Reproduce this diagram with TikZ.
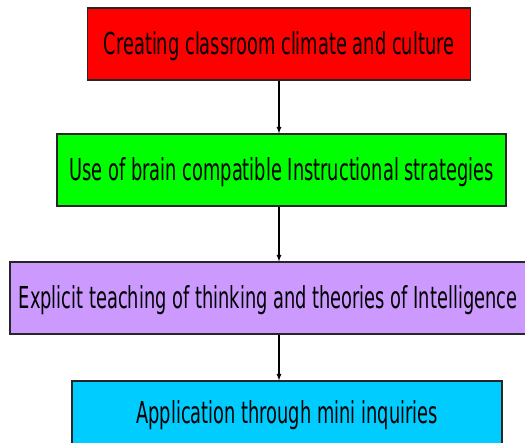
\documentclass[tikz,border=0pt]{standalone}
\usepackage{fontspec}
\setmainfont{DejaVu Sans}
\usetikzlibrary{arrows}

\definecolor{lilac}{HTML}{CC99FF}
\definecolor{skyblue}{HTML}{00CCFF}
\definecolor{lime}{HTML}{00FF00}

% squeezed text for the stage boxes
\newcommand{\narrow}[1]{\scalebox{0.59}[1]{#1}}

\tikzset{
	stage/.style={draw=black!85, line width=1.2pt, inner sep=0pt,
		text height=22pt, text depth=0pt, minimum height=72pt,
		font=\fontsize{30.2}{34}\selectfont},
	flow/.style={-latex, line width=1.2pt}
}

\begin{document}
\begin{tikzpicture}[x=1pt,y=-1pt]
	\useasboundingbox (0,0) rectangle (525,443);
	\node[stage, fill=red, minimum width=383pt] (climate) at (279,44) {\narrow{Creating classroom climate and culture}};
	\node[stage, fill=lime, minimum width=449pt] (brain) at (281.5,170) {\narrow{Use of brain compatible Instructional strategies}};
	\node[stage, fill=lilac, minimum width=516pt] (thinking) at (268,298) {\narrow{Explicit teaching of thinking and theories of Intelligence}};
	\node[stage, fill=skyblue, minimum width=430pt, minimum height=63pt] (inquiry) at (287,412.5) {\narrow{Application through mini inquiries}};
	% arrows between the stages
	\draw[flow] (climate.south) -- (climate.south |- brain.north);
	\draw[flow] (climate.south |- brain.south) -- (climate.south |- thinking.north);
	\draw[flow] (climate.south |- thinking.south) -- (climate.south |- inquiry.north);
\end{tikzpicture}
\end{document}
